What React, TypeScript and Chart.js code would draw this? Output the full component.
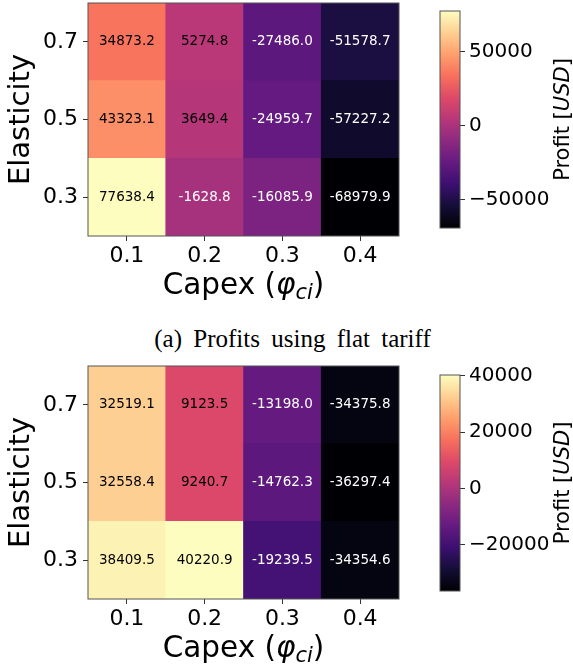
import React, { useEffect, useRef } from 'react';
import { Chart, registerables } from 'chart.js';

Chart.register(...registerables);
Chart.defaults.font.family = '"DejaVu Sans"';

// ---------------- data ----------------
const capexLabels = ['0.1', '0.2', '0.3', '0.4'];
const elasticityLabels = ['0.3', '0.5', '0.7'];

// (a) flat tariff — one array per elasticity row
const flatProfitE03 = [77638.4, -1628.8, -16085.9, -68979.9];
const flatProfitE05 = [43323.1, 3649.4, -24959.7, -57227.2];
const flatProfitE07 = [34873.2, 5274.8, -27486.0, -51578.7];

// second panel
const touProfitE03 = [38409.5, 40220.9, -19239.5, -34354.6];
const touProfitE05 = [32558.4, 9240.7, -14762.3, -36297.4];
const touProfitE07 = [32519.1, 9123.5, -13198.0, -34375.8];

const flatColorbarTicks = [-50000, 0, 50000];
const touColorbarTicks = [-20000, 0, 20000, 40000];

const captionText = '(a) Profits using flat tariff';
const yTitle = 'Elasticity';

// ---------------- colormap (magma) ----------------
const MAGMA = ['#000004', '#140e36', '#3b0f70', '#641a80', '#8c2981', '#b73779', '#de4968', '#f7705c', '#fe9f6d', '#fecf92', '#fcfdbf'];

function hexToRgb(h: string) {
  const n = parseInt(h.slice(1), 16);
  return [(n >> 16) & 255, (n >> 8) & 255, n & 255];
}
function magma(t: number) {
  const tt = Math.max(0, Math.min(1, t)) * (MAGMA.length - 1);
  const i = Math.min(MAGMA.length - 2, Math.floor(tt));
  const f = tt - i;
  const a = hexToRgb(MAGMA[i]);
  const b = hexToRgb(MAGMA[i + 1]);
  const c = a.map((v, k) => Math.round(v + (b[k] - v) * f));
  return `rgb(${c[0]},${c[1]},${c[2]})`;
}

const FONT = '"DejaVu Sans"';
const fmtTick = (v: number) => (v < 0 ? '\u2212' + Math.abs(v) : String(v));

// ---------------- heatmap ----------------
type HeatProps = { rows: number[][]; areaTop: number; areaBottom: number };

const CANVAS_W = 410;
const PAD_TOP = 10;
const X_AXIS_H = 85;
const Y_AXIS_W = 88;
const AREA_RIGHT = 399;

function Heatmap({ rows, areaTop, areaBottom }: HeatProps) {
  const ref = useRef<HTMLCanvasElement>(null);
  const H = PAD_TOP + (areaBottom - areaTop) + X_AXIS_H;
  useEffect(() => {
    const all = rows.flat();
    const vmin = Math.min(...all);
    const vmax = Math.max(...all);
    const norm = (v: number) => (v - vmin) / (vmax - vmin);

    const decor = {
      id: 'heatDecor',
      afterDatasetsDraw(chart: any) {
        const ctx = chart.ctx;
        const a = chart.chartArea;
        ctx.save();
        ctx.font = `13.5px ${FONT}`;
        ctx.textAlign = 'center';
        ctx.textBaseline = 'middle';
        rows.forEach((vals, r) => {
          const meta = chart.getDatasetMeta(r);
          meta.data.forEach((el: any, c: number) => {
            const v = vals[c];
            ctx.fillStyle = norm(v) > 0.48 ? '#000' : '#fff';
            ctx.fillText(v.toFixed(1), el.x, (el.y + el.base) / 2);
          });
        });
        ctx.strokeStyle = '#555';
        ctx.lineWidth = 1;
        ctx.strokeRect(a.left, a.top, a.right - a.left, a.bottom - a.top);
        ctx.restore();
      },
      afterDraw(chart: any) {
        const ctx = chart.ctx;
        const a = chart.chartArea;
        ctx.save();
        ctx.fillStyle = '#000';
        // y title
        ctx.translate(21.5, (a.top + a.bottom) / 2);
        ctx.rotate(-Math.PI / 2);
        ctx.font = `29px ${FONT}`;
        ctx.textAlign = 'center';
        ctx.textBaseline = 'middle';
        ctx.fillText(yTitle, 0, 0);
        ctx.restore();

        // x title: Capex (φ_ci)
        ctx.save();
        ctx.fillStyle = '#000';
        ctx.textBaseline = 'alphabetic';
        ctx.textAlign = 'left';
        const parts = [
          { t: 'Capex (', f: `29.5px ${FONT}`, dy: 0 },
          { t: '\u03c6', f: `italic 29.5px ${FONT}`, dy: 0 },
          { t: 'ci', f: `italic 21px ${FONT}`, dy: 5 },
          { t: ')', f: `29.5px ${FONT}`, dy: 0 },
        ];
        let total = 0;
        const widths = parts.map((p) => {
          ctx.font = p.f;
          const w = ctx.measureText(p.t).width;
          total += w;
          return w;
        });
        let x = (a.left + a.right) / 2 - total / 2;
        const base = a.bottom + 58;
        parts.forEach((p, i) => {
          ctx.font = p.f;
          ctx.fillText(p.t, x, base + p.dy);
          x += widths[i];
        });
        ctx.restore();
      },
    };

    const chart = new Chart(ref.current as HTMLCanvasElement, {
      type: 'bar',
      data: {
        labels: capexLabels,
        datasets: rows.map((vals, r) => ({
          label: elasticityLabels[r],
          data: vals.map(() => 1),
          backgroundColor: vals.map((v) => magma(norm(v))),
          borderWidth: 0,
          barPercentage: 1,
          categoryPercentage: 1,
        })),
      },
      options: {
        responsive: false,
        animation: false,
        events: [],
        layout: { padding: { top: PAD_TOP, left: 0, right: CANVAS_W - AREA_RIGHT, bottom: 0 } },
        plugins: { legend: { display: false }, tooltip: { enabled: false } },
        scales: {
          x: {
            type: 'category',
            stacked: true,
            offset: true,
            border: { display: false },
            grid: { offset: false, drawOnChartArea: false, drawTicks: true, tickLength: 5, color: '#333' },
            ticks: { color: '#000', font: { size: 22 }, padding: 2, autoSkip: false, maxRotation: 0 },
            afterFit(s: any) {
              s.height = X_AXIS_H;
              s.paddingLeft = 0;
              s.paddingRight = 0;
            },
          },
          y: {
            type: 'linear',
            stacked: true,
            min: 0,
            max: elasticityLabels.length,
            border: { display: false },
            grid: { drawOnChartArea: false, drawTicks: true, tickLength: 5, color: '#333' },
            ticks: {
              color: '#000',
              font: { size: 22 },
              padding: 5,
              autoSkip: false,
              callback: (_v: any, i: number) => elasticityLabels[i],
            },
            afterBuildTicks(s: any) {
              s.ticks = elasticityLabels.map((_, i) => ({ value: i + 0.5 }));
            },
            afterFit(s: any) {
              s.width = Y_AXIS_W;
              s.paddingTop = 0;
              s.paddingBottom = 0;
            },
          },
        },
      },
      plugins: [decor],
    } as any);
    return () => chart.destroy();
  }, []);
  return (
    <canvas
      ref={ref}
      width={CANVAS_W}
      height={H}
      style={{ position: 'absolute', left: 0, top: areaTop - PAD_TOP, width: CANVAS_W, height: H }}
    />
  );
}

// ---------------- colorbar ----------------
type CbProps = { rows: number[][]; ticks: number[]; areaTop: number; areaBottom: number };
const CB_LEFT = 430;
const CB_W = 143;
const CB_PAD_LEFT = 10;
const CB_BAR_W = 20;

function Colorbar({ rows, ticks, areaTop, areaBottom }: CbProps) {
  const ref = useRef<HTMLCanvasElement>(null);
  const H = areaBottom - areaTop + 20;
  useEffect(() => {
    const all = rows.flat();
    const vmin = Math.min(...all);
    const vmax = Math.max(...all);
    const decor = {
      id: 'cbDecor',
      afterDraw(chart: any) {
        const ctx = chart.ctx;
        const a = chart.chartArea;
        ctx.save();
        ctx.strokeStyle = '#555';
        ctx.lineWidth = 1;
        ctx.strokeRect(a.left, a.top, a.right - a.left, a.bottom - a.top);
        ctx.restore();
        ctx.save();
        ctx.fillStyle = '#000';
        ctx.translate(134, (a.top + a.bottom) / 2);
        ctx.rotate(-Math.PI / 2);
        ctx.textBaseline = 'middle';
        ctx.textAlign = 'left';
        const parts = [
          { t: 'Profit [', f: `21px ${FONT}` },
          { t: 'USD', f: `italic 21px ${FONT}` },
          { t: ']', f: `21px ${FONT}` },
        ];
        let total = 0;
        const widths = parts.map((p) => {
          ctx.font = p.f;
          const w = ctx.measureText(p.t).width;
          total += w;
          return w;
        });
        let x = -total / 2;
        parts.forEach((p, i) => {
          ctx.font = p.f;
          ctx.fillText(p.t, x, 0);
          x += widths[i];
        });
        ctx.restore();
      },
    };
    const chart = new Chart(ref.current as HTMLCanvasElement, {
      type: 'bar',
      data: {
        labels: ['colorbar'],
        datasets: [
          {
            data: [[vmin, vmax]],
            backgroundColor: (c: any) => {
              const a = c.chart.chartArea;
              if (!a) return MAGMA[5];
              const g = c.chart.ctx.createLinearGradient(0, a.bottom, 0, a.top);
              MAGMA.forEach((col, i) => g.addColorStop(i / (MAGMA.length - 1), col));
              return g;
            },
            borderWidth: 0,
            barPercentage: 1,
            categoryPercentage: 1,
          },
        ],
      },
      options: {
        responsive: false,
        animation: false,
        events: [],
        layout: { padding: { top: 10, bottom: 10, left: CB_PAD_LEFT, right: 0 } },
        plugins: { legend: { display: false }, tooltip: { enabled: false } },
        scales: {
          x: { display: false },
          y: {
            type: 'linear',
            position: 'right',
            min: vmin,
            max: vmax,
            border: { display: false },
            grid: { drawOnChartArea: false, drawTicks: true, tickLength: 5, color: '#333' },
            ticks: { color: '#000', font: { size: 20 }, padding: 4, autoSkip: false, callback: (v: any) => fmtTick(v) },
            afterBuildTicks(s: any) {
              s.ticks = ticks.map((v) => ({ value: v }));
            },
            afterFit(s: any) {
              s.width = CB_W - CB_PAD_LEFT - CB_BAR_W;
              s.paddingTop = 0;
              s.paddingBottom = 0;
            },
          },
        },
      },
      plugins: [decor],
    } as any);
    return () => chart.destroy();
  }, []);
  return (
    <canvas
      ref={ref}
      width={CB_W}
      height={H}
      style={{ position: 'absolute', left: CB_LEFT, top: areaTop - 10, width: CB_W, height: H }}
    />
  );
}

export default function App() {
  const flatRows = [flatProfitE03, flatProfitE05, flatProfitE07];
  const touRows = [touProfitE03, touProfitE05, touProfitE07];
  return (
    <div
      style={{
        position: 'absolute',
        left: 0,
        top: 0,
        width: 573,
        height: 671,
        overflow: 'hidden',
        background: '#fff',
      }}
    >
      <Heatmap rows={flatRows} areaTop={2.5} areaBottom={235.5} />
      <Colorbar rows={flatRows} ticks={flatColorbarTicks} areaTop={10.7} areaBottom={227.7} />
      <div
        style={{
          position: 'absolute',
          left: 0,
          top: 326,
          width: 585,
          textAlign: 'center',
          fontFamily: '"Liberation Serif", "Times New Roman", serif',
          fontSize: 25,
          lineHeight: '25px',
          wordSpacing: 5,
          color: '#000',
          whiteSpace: 'nowrap',
        }}
      >
        {captionText}
      </div>
      <Heatmap rows={touRows} areaTop={365.5} areaBottom={599} />
      <Colorbar rows={touRows} ticks={touColorbarTicks} areaTop={375} areaBottom={591} />
    </div>
  );
}
